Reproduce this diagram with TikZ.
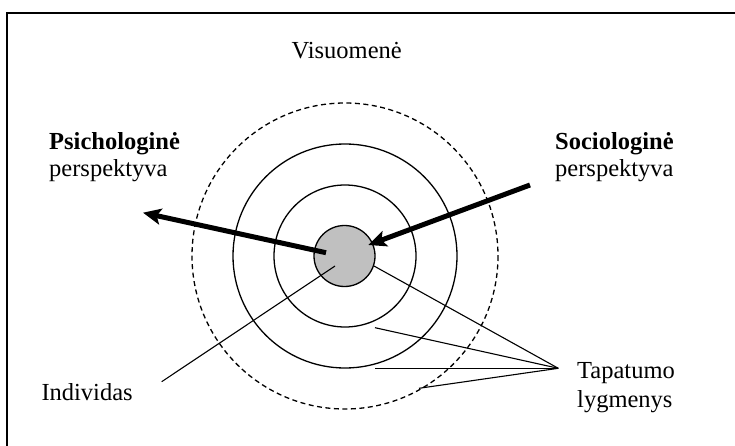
\documentclass[tikz,border=0pt]{standalone}
\usepackage{fontspec}
\setmainfont{Liberation Serif}
\usetikzlibrary{arrows.meta}
\definecolor{indgray}{RGB}{192,192,192}

\begin{document}
\begin{tikzpicture}[x=1pt,y=-1pt,
  ring/.style={line width=1.3pt},
  ptr/.style={line width=1.1pt},
  bigarrow/.style={line width=5pt,-{Stealth[length=18pt,width=16pt,inset=4pt]}},
  lbl/.style={font=\fontsize{24.5}{27}\selectfont,inner sep=0pt,align=left}]
  \useasboundingbox (0,0) rectangle (735,446);
  \draw[line width=2pt] (7,470) -- (7,13) -- (760,13);
  \draw[ring,dash pattern=on 5pt off 3.5pt] (345,256) circle (153);
  \draw[ring] (345,256) circle (112);
  \draw[ring] (345,256) circle (71);
  \node[circle,draw,ring,fill=indgray,minimum size=61pt,inner sep=0pt] (ind) at (344.5,256) {};
  \node[lbl,anchor=base] (visuomene) at (346.7,58.3) {Visuomenė};
  \node[lbl,anchor=base west] (psy) at (49,176.5) {\textbf{Psichologinė}\\perspektyva};
  \node[lbl,anchor=base west] (socio) at (555,176.5) {\textbf{Sociologinė}\\perspektyva};
  \node[lbl,anchor=base west,font=\fontsize{24.5}{29}\selectfont] (lygmenys) at (577,407.5) {Tapatumo\\lygmenys};
  \node[lbl,anchor=base west] (individas) at (41.3,400) {Individas};
  \coordinate (psyFrom) at (326,252.7);
  \coordinate (psyTo) at (143,212.7);
  \coordinate (socFrom) at (530,185);
  \coordinate (socTo) at (368.3,245);
  \coordinate (indIn) at (335,266);
  \coordinate (indOut) at (161.7,381.7);
  \coordinate (lvTip) at (558.3,368.3);
  \coordinate (lv0) at (374,266);
  \coordinate (lv1) at (375,327.7);
  \coordinate (lv2) at (375,368.3);
  \coordinate (lv3) at (419,388.3);
  \draw[bigarrow] (psyFrom) -- (psyTo);
  \draw[bigarrow] (socFrom) -- (socTo);
  \draw[ptr] (indIn) -- (indOut);
  \foreach \p in {lv0,lv1,lv2,lv3}
    \draw[ptr] (\p) -- (lvTip);
\end{tikzpicture}
\end{document}
